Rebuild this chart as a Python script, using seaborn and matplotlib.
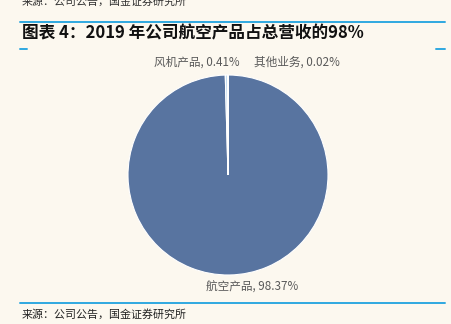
import matplotlib
matplotlib.use("Agg")
import matplotlib.pyplot as plt
import seaborn as sns
from matplotlib.lines import Line2D

categories = ["航空产品", "风机产品", "其他业务"]
values = [98.37, 0.41, 0.02]
label_texts = ["航空产品, 98.37%", "风机产品, 0.41%", "其他业务, 0.02%"]
title = "图表 4：2019 年公司航空产品占总营收的98%"
source = "来源：公司公告，国金证券研究所"

sns.set_theme(style="white")
fams = ["Noto Sans CJK SC", "DejaVu Sans"]
plt.rcParams["font.family"] = fams

bg = "#FCF8EF"
W, H = 452, 324
fig = plt.figure(figsize=(W / 100, H / 100), dpi=100, facecolor=bg)

def px(x, y):
    return x / W, 1 - y / H

# Pie axes: center (228,175), radius 100 px
ax = fig.add_axes([128 / W, (H - 275) / H, 200 / W, 200 / H])
ax.set_facecolor(bg)
colors = ["#5874A0", "#C3DCF0", "#9FB8D8"]
wedges, _ = ax.pie(values, colors=colors, startangle=90, counterclock=False,
                   wedgeprops=dict(edgecolor="white", linewidth=0.8))
ax.set_xlim(-1, 1)
ax.set_ylim(-1, 1)
ax.set_aspect("equal")
ax.axis("off")

# Data labels
lab_pos = [(252, 287), (197, 62), (297, 62)]
for t, (x, y) in zip(label_texts, lab_pos):
    fx, fy = px(x, y)
    fig.text(fx, fy, t, ha="center", va="center", fontsize=8.4, color="#595959", family=fams)

# Top cut-off source text (partly cut at the top edge, as in the reference)
fx, fy = px(22, 1.5)
fig.text(fx, fy, source, ha="left", va="center", fontsize=7.9, color="#333333", family=fams)

# Title
fx, fy = px(22, 33)
fig.text(fx, fy, title, ha="left", va="center", fontsize=12, fontweight="bold",
         style="italic", color="#111111", family=fams)

blue = "#2FA8E0"
def hline(x0, x1, y, lw):
    a, yy = px(x0, y)
    b, _ = px(x1, y)
    fig.add_artist(Line2D([a, b], [yy, yy], color=blue, linewidth=lw, transform=fig.transFigure))

hline(20, 445, 22, 1.4)
hline(20, 27, 48.5, 1.4)
hline(436, 445, 48.5, 1.4)
hline(20, 445, 302.5, 1.4)

# Bottom source
fx, fy = px(22, 314)
fig.text(fx, fy, source, ha="left", va="center", fontsize=7.9, color="#222222", family=fams)

fig.savefig("out.png", dpi=100, facecolor=bg)
